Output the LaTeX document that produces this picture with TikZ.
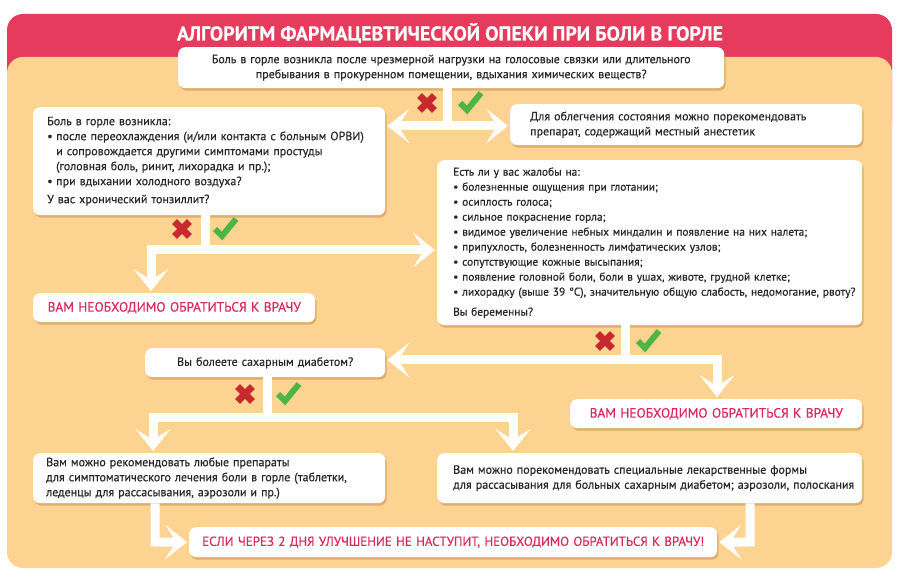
\documentclass[tikz,border=0pt]{standalone}
\usepackage{fontspec}
\setmainfont{PT Sans}[FakeBold=0.4]
\usetikzlibrary{arrows.meta,positioning,shadows}
\definecolor{Ink}{HTML}{2A2526}
\definecolor{Header}{HTML}{E63B5C}
\definecolor{Panel}{HTML}{FCD391}
\definecolor{Alert}{HTML}{D92A5E}
\definecolor{Shade}{HTML}{C48A45}
\definecolor{NoRed}{HTML}{C62A2F}
\definecolor{YesGreen}{HTML}{4FB446}
\newcommand{\bul}{\makebox[9pt][l]{\textbullet}}
\newcommand{\ind}{\hspace*{9pt}}
\tikzset{
  card/.style={fill=white,rounded corners=7pt,drop shadow={shadow xshift=1.5pt,shadow yshift=-2.5pt,fill=Shade,opacity=0.5},text=Ink,font=\fontsize{12}{15}\selectfont,anchor=north west,inner ysep=2pt},
  leftcard/.style={card,align=left},
  midcard/.style={card,align=center},
  alert/.style={card,align=center,text=Alert,font=\fontsize{13.4}{16}\selectfont},
  title/.style={text=white,font=\fontsize{20}{22}\selectfont\bfseries},
  stem/.style={draw=white,line width=9pt,line join=miter},
  line/.style={stem,-{Stealth[length=22pt,width=35pt,inset=11pt,line width=0pt]},shorten >=2pt},
  pics/nomark/.style={code={
    \fill[NoRed,rotate=45] (-10.5,-3.5) rectangle (10.5,3.5);
    \fill[NoRed,rotate=45] (-3.5,-10.5) rectangle (3.5,10.5);}},
  pics/yesmark/.style={code={
    \draw[YesGreen,line width=6pt] (-10,0) -- (-3,7) -- (11,-10);}}
}
\begin{document}
\begin{tikzpicture}[x=1pt,y=-1pt]
  \useasboundingbox (0,0) rectangle (900,577);
  \fill[Header,rounded corners=16pt] (7,14) rectangle (892,140);
  \fill[Panel,rounded corners=16pt] (7,57) rectangle (892,568);
  \node[title] (head) at (450,33) {АЛГОРИТМ ФАРМАЦЕВТИЧЕСКОЙ ОПЕКИ ПРИ БОЛИ В ГОРЛЕ};
  \node[midcard,text width=530,inner xsep=8,minimum height=41] (q1) at (178,47) {Боль в горле возникла после чрезмерной нагрузки на голосовые связки или длительного\\пребывания в прокуренном помещении, вдыхания химических веществ?};
  \node[leftcard,text width=312,inner xsep=20,minimum height=41] (adv) at (510,104) {Для облегчения состояния можно порекомендовать\\препарат, содержащий местный анестетик};
  \node[leftcard,text width=324,inner xsep=14,minimum height=108] (cold) at (33,107) {Боль в горле возникла:\\\bul после переохлаждения (и/или контакта с больным ОРВИ)\\\ind и сопровождается другими симптомами простуды\\\ind (головная боль, ринит, лихорадка и пр.);\\\bul при вдыхании холодного воздуха?\\[3pt]У вас хронический тонзиллит?};
  \node[alert,text width=266,inner xsep=8,minimum height=29] (doc1) at (33,293) {ВАМ НЕОБХОДИМО ОБРАТИТЬСЯ К ВРАЧУ};
  \node[leftcard,font=\fontsize{11.4}{15}\selectfont,text width=393,inner xsep=16,minimum height=165] (comp) at (437,160) {Есть ли у вас жалобы на:\\\bul болезненные ощущения при глотании;\\\bul осиплость голоса;\\\bul сильное покраснение горла;\\\bul видимое увеличение небных миндалин и появление на них налета;\\\bul припухлость, болезненность лимфатических узлов;\\\bul сопутствующие кожные высыпания;\\\bul появление головной боли, боли в ушах, животе, грудной клетке;\\\bul \mbox{лихорадку (выше 39~°C), значительную общую слабость, недомогание, рвоту?}\\[5pt]Вы беременны?};
  \node[midcard,text width=224,inner xsep=8,minimum height=29] (diab) at (145,348) {Вы болеете сахарным диабетом?};
  \node[alert,text width=276,inner xsep=8,minimum height=29] (doc2) at (570,399) {ВАМ НЕОБХОДИМО ОБРАТИТЬСЯ К ВРАЧУ};
  \node[leftcard,text width=326,inner xsep=13,minimum height=50] (sympt) at (33,453) {Вам можно рекомендовать любые препараты\\для симптоматического лечения боли в горле (таблетки,\\леденцы для рассасывания, аэрозоли и пр.)};
  \node[leftcard,text width=393,inner xsep=16,minimum height=50] (spec) at (437,453) {Вам можно порекомендовать специальные лекарственные формы\\\mbox{для рассасывания для больных сахарным диабетом; аэрозоли, полоскания}};
  \node[alert,font=\fontsize{13}{16}\selectfont,text width=512,inner xsep=8,minimum height=30] (final) at (189,527) {\mbox{ЕСЛИ ЧЕРЕЗ 2 ДНЯ УЛУЧШЕНИЕ НЕ НАСТУПИТ, НЕОБХОДИМО ОБРАТИТЬСЯ К ВРАЧУ!}};
  \coordinate (j1) at (447,126);
  \coordinate (j2) at (205,250);
  \coordinate (t2) at (151,250);
  \coordinate (j3) at (625,360);
  \coordinate (t3) at (717,360);
  \coordinate (j4) at (267,417);
  \coordinate (t4) at (153,417);
  \coordinate (t5) at (513,417);
  \coordinate (t6) at (155,542);
  \coordinate (t7) at (750,542);
  \draw[stem] (q1.south -| j1) -- (j1);
  \draw[line] (j1) -- (cold.east |- j1);
  \draw[line] (j1) -- (adv.west |- j1);
  \draw[stem] (cold.south -| j2) -- (j2);
  \draw[line] (j2) -- (t2) -- (t2 |- doc1.north);
  \draw[line] (j2) -- (comp.west |- j2);
  \draw[stem] (comp.south -| j3) -- (j3);
  \draw[line] (j3) -- (diab.east |- j3);
  \draw[line] (j3) -- (t3) -- (t3 |- doc2.north);
  \draw[stem] (diab.south -| j4) -- (j4);
  \draw[line] (j4) -- (t4) -- (t4 |- sympt.north);
  \draw[line] (j4) -- (t5) -- (t5 |- spec.north);
  \draw[line] (sympt.south -| t6) -- (t6) -- (final.west);
  \draw[line] (spec.south -| t7) -- (t7) -- (final.east);
  \foreach \x/\y in {427/103,182/229,605/341,245/394} {
    \pic at (\x,\y) {nomark};
    \pic at (\x+43,\y) {yesmark};
  }
\end{tikzpicture}
\end{document}
